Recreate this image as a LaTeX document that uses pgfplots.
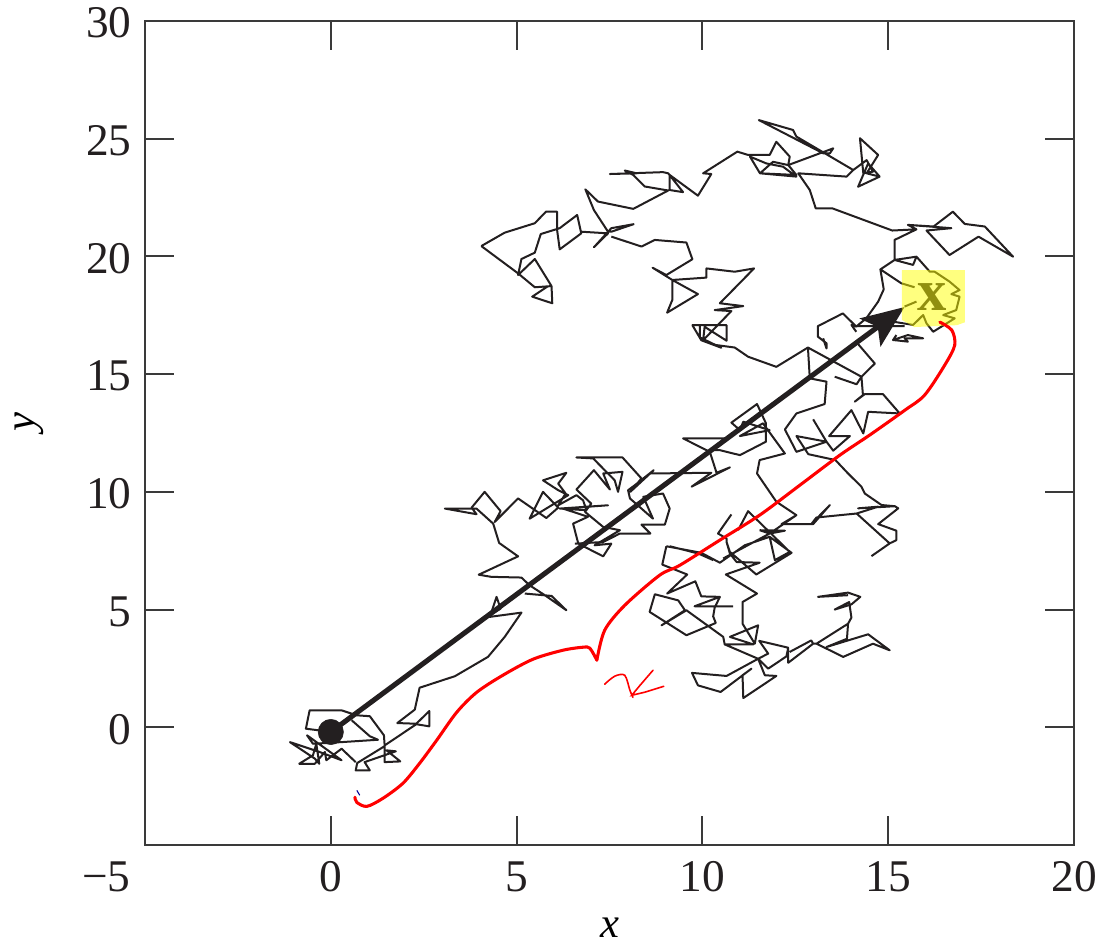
\documentclass[border=0pt]{standalone}
\usepackage{fontspec}
\setmainfont{Liberation Serif}
\usepackage{pgfplots}
\pgfplotsset{compat=1.18}
\usetikzlibrary{arrows.meta}
\definecolor{ink}{HTML}{231F20}
\definecolor{frame}{HTML}{3A3A3A}
\begin{document}
\begin{tikzpicture}
\useasboundingbox (-108.75pt,-77.25pt) rectangle (715.5pt,633.75pt);
\begin{axis}[
  scale only axis,width=696.75pt,height=618pt,
  xmin=-5,xmax=20,ymin=-5,ymax=30,
  xtick={-5,0,5,10,15,20},ytick={-5,0,5,10,15,20,25,30},
  xticklabels={\makebox[0pt][r]{−5\hspace{11pt}},0,5,10,15,20},
  yticklabels={,0,5,10,15,20,25,30},
  tick align=inside,tick pos=both,major tick length=22pt,
  axis line style={frame,line width=1.5pt},
  every tick/.style={frame,line width=1.5pt},
  tick label style={font=\fontsize{34}{36}\selectfont,text=ink},
  xticklabel style={yshift=-9pt},
  yticklabel style={xshift=-6.5pt,yshift=-1.5pt},
  xlabel={\fontsize{32}{34}\selectfont\itshape x},
  ylabel={\fontsize{32}{34}\selectfont\itshape y},
  xlabel style={at={(axis description cs:0.5005,-0.100)},anchor=center},
  ylabel style={at={(axis description cs:-0.124,0.513)},anchor=center},
  clip=false,
]
% random walk
\addplot[ink,line width=1.5pt,line join=round,unbounded coords=jump] table {
x y
0.02 -0.20
-0.67 -0.06
-0.57 0.72
0.29 0.72
0.69 0.51
1.05 0.47
1.43 -0.34
1.45 -0.80
0.71 -1.52
0.67 -1.83
1.05 -1.83
0.91 -1.48
1.75 -1.02
1.50 -0.98
1.87 -1.45
1.45 -1.48
1.45 -0.77
2.30 0.13
2.65 0.04
2.65 0.69
2.30 0.15
1.79 0.18
2.26 0.75
2.39 1.68
3.34 2.17
4.23 2.99
4.68 3.84
5.13 4.87
4.28 4.69
4.46 5.54
4.57 5.04
4.28 4.76
nan nan
0.56 0.30
1.05 -0.38
1.27 -0.53
0.29 -0.63
-0.48 -0.70
-0.64 -0.34
0.29 -1.40
-0.30 -1.05
-1.10 -0.63
-0.43 -1.33
-0.31 -1.55
-0.39 -0.70
-0.48 -1.19
-0.85 -1.55
-0.43 -1.55
-0.16 -1.05
-0.12 -1.40
0.29 -0.91
0.67 -1.48
nan nan
5.22 5.68
5.94 5.58
6.34 4.97
5.76 5.61
5.35 6.03
5.13 6.36
4.32 6.39
3.98 6.48
5.04 7.26
4.53 7.83
4.37 8.65
3.92 9.29
3.07 9.29
3.92 9.05
3.79 9.33
4.14 10.00
4.57 9.18
4.41 8.72
5.04 9.72
5.80 8.89
6.12 9.33
5.71 10.00
5.35 8.86
6.39 9.86
6.12 10.07
5.71 10.49
6.34 10.81
6.12 10.35
6.32 9.93
6.12 9.43
6.61 9.86
6.79 9.64
6.88 9.22
6.16 9.29
7.46 9.43
6.25 9.29
6.92 8.94
6.52 8.65
6.66 7.80
7.33 7.26
7.55 7.80
7.10 7.73
7.78 8.37
7.33 8.51
6.84 9.15
7.01 9.50
6.61 10.10
7.08 10.92
7.51 10.10
7.33 10.78
7.85 10.85
7.73 10.00
7.64 10.49
7.06 11.42
6.61 11.46
7.85 11.46
8.36 10.57
8.06 10.00
8.69 10.92
8.18 10.28
8.00 10.07
8.05 9.72
8.67 8.86
8.41 9.79
8.94 9.93
9.12 9.29
8.99 8.61
8.36 8.61
8.60 8.23
7.78 8.23
7.33 7.87
6.57 7.80
nan nan
8.58 10.78
10.24 10.81
9.71 10.22
10.74 11.04
10.38 10.81
10.20 11.70
9.48 12.27
10.60 12.27
10.24 11.77
10.47 11.77
11.01 11.56
11.71 12.13
11.71 12.91
11.47 13.73
10.78 12.94
11.01 12.62
11.10 12.98
11.81 12.62
11.01 12.37
11.63 12.91
12.22 11.63
11.54 11.35
11.47 10.78
11.99 9.58
12.53 9.01
12.13 8.63
12.98 8.63
13.43 9.44
12.93 8.63
13.07 8.91
14.15 9.08
14.73 9.37
14.19 9.30
15.18 9.39
14.82 9.44
14.37 9.93
14.28 10.22
13.92 10.78
13.58 11.35
12.85 11.60
12.53 12.37
13.34 12.13
12.53 11.70
12.22 12.65
12.53 13.33
13.29 13.73
13.34 14.68
12.89 14.82
12.84 16.13
nan nan
12.98 13.08
13.34 12.13
13.52 11.75
13.97 12.37
13.41 12.37
14.01 13.47
14.33 12.48
14.46 13.40
15.31 13.33
14.86 14.15
14.37 14.15
14.10 13.83
14.32 14.11
14.28 14.89
14.15 14.57
13.56 14.89
nan nan
14.15 9.08
15.04 7.81
14.55 7.27
nan nan
15.18 9.39
15.27 9.30
14.73 8.63
15.22 8.35
15.22 7.95
15.00 7.78
nan nan
9.03 7.69
8.92 6.91
9.59 6.49
9.05 5.68
9.81 6.20
9.97 5.56
10.47 5.54
10.33 5.08
10.29 4.71
10.36 4.43
9.57 3.91
8.58 4.90
8.72 5.65
9.35 5.39
9.53 4.97
8.90 4.33
9.57 4.97
10.56 3.84
10.60 3.52
11.50 2.91
11.77 3.13
11.53 3.67
12.31 3.38
12.26 3.01
11.77 2.49
11.50 2.91
11.68 2.21
11.99 2.18
11.10 1.24
11.08 2.21
11.32 2.49
10.49 1.50
9.88 1.78
9.72 2.31
10.65 2.18
11.50 2.91
nan nan
9.03 7.69
9.97 7.41
10.47 6.99
11.14 7.73
11.81 8.09
12.40 7.41
11.45 6.49
10.74 7.45
10.65 7.87
10.74 7.38
10.92 7.02
11.54 6.99
10.63 6.49
11.47 5.68
11.08 5.32
11.08 4.40
11.41 3.55
11.50 4.33
10.74 3.84
11.37 3.52
10.60 3.52
nan nan
10.47 5.54
9.79 5.14
10.83 5.14
nan nan
12.31 3.38
12.31 2.74
12.98 3.55
12.93 3.69
12.35 3.20
nan nan
12.98 3.55
13.07 3.55
13.79 2.99
14.59 3.55
15.04 3.27
14.46 3.95
13.34 3.41
13.89 3.76
13.92 4.40
13.07 3.55
nan nan
13.92 4.40
14.01 4.66
13.95 5.32
13.56 5.00
14.01 5.22
14.25 5.54
13.92 5.72
13.11 5.54
13.92 5.61
nan nan
10.78 9.04
10.42 8.23
10.65 8.02
10.65 7.87
nan nan
10.96 8.37
11.23 9.18
12.35 7.45
11.95 7.10
11.81 8.09
nan nan
10.56 7.17
11.81 8.23
12.53 9.01
nan nan
11.54 8.37
12.22 8.35
11.81 8.23
11.54 8.37
nan nan
9.12 7.69
9.89 7.38
10.29 7.10
nan nan
4.05 20.44
5.04 19.28
5.49 18.69
5.94 18.74
5.49 19.89
5.04 19.21
5.13 19.89
5.49 20.16
5.65 20.95
6.16 21.20
6.63 21.76
6.74 20.98
6.16 20.30
6.09 21.12
6.09 21.90
5.79 21.90
5.49 21.41
4.68 21.01
4.05 20.44
nan nan
5.94 18.74
5.96 18.01
5.42 18.29
5.85 18.74
nan nan
6.74 21.05
7.46 20.98
7.08 20.39
7.55 21.20
8.15 21.37
7.55 21.05
7.46 21.05
7.08 21.97
6.85 22.85
7.19 22.33
8.14 22.02
9.08 22.80
8.45 22.97
8.14 23.46
7.91 23.65
8.23 23.53
7.51 23.50
8.94 23.58
9.08 23.53
9.48 22.73
9.12 22.82
9.12 23.46
9.88 22.58
10.24 23.50
10.02 23.53
10.94 24.45
11.23 24.31
11.81 24.31
11.99 24.87
12.35 24.24
12.31 23.88
11.90 24.02
11.55 23.53
12.53 23.39
12.17 23.81
11.72 23.95
11.28 24.24
11.55 23.53
12.53 23.46
12.31 23.88
13.52 24.59
13.43 24.38
13.25 24.38
11.52 25.79
12.44 25.37
12.53 25.09
14.06 23.67
13.88 23.39
12.58 23.53
12.89 22.82
13.05 22.04
13.50 22.04
15.11 21.10
15.76 21.15
15.53 21.34
16.70 21.20
16.03 21.10
16.65 20.06
17.43 20.84
18.36 19.99
17.60 21.27
17.06 21.38
16.74 21.90
16.22 21.27
15.53 21.34
15.76 21.15
15.17 20.70
15.17 19.85
15.76 19.99
15.67 19.64
15.17 19.85
14.79 19.45
15.35 18.86
15.71 18.69
nan nan
14.06 23.67
14.42 24.09
14.59 23.60
14.33 23.53
14.24 25.02
14.73 24.31
14.42 23.53
14.77 23.39
14.46 23.95
14.19 22.96
14.77 23.39
nan nan
14.79 19.45
14.88 18.60
14.73 18.08
14.41 17.37
14.14 17.02
14.01 17.09
14.14 16.80
nan nan
14.14 17.02
13.78 17.58
13.11 17.04
13.11 16.59
13.34 16.31
13.34 16.09
13.25 16.52
nan nan
15.76 19.99
16.12 19.35
16.25 19.35
16.65 18.93
16.92 18.57
16.70 18.40
16.92 18.29
16.83 17.72
16.48 17.51
16.79 17.37
16.21 16.80
16.03 17.16
15.94 17.51
15.67 17.09
15.13 17.23
nan nan
14.14 17.04
15.44 17.04
nan nan
15.13 16.45
15.53 16.66
15.94 16.52
15.44 16.52
15.53 16.38
15.13 16.45
15.22 16.66
nan nan
15.44 17.87
15.76 18.08
nan nan
7.55 20.84
8.36 20.42
8.72 20.70
9.57 20.59
9.73 19.88
9.03 19.21
8.66 19.52
9.19 19.00
9.88 18.40
9.05 17.61
9.19 18.15
9.19 19.00
10.11 19.10
10.11 19.49
10.87 19.35
11.39 19.49
10.47 18.01
11.10 17.89
10.33 17.72
10.78 17.68
10.02 16.44
10.06 17.01
10.65 16.42
10.65 17.08
9.73 17.08
9.97 16.44
10.51 16.12
9.93 16.56
9.93 17.08
nan nan
10.30 16.25
10.87 16.13
11.23 15.74
11.99 15.31
12.84 16.13
14.28 14.89
14.64 15.45
14.14 16.37
};
% displacement arrow
\addplot[ink,line width=3.8pt,-{Stealth[length=32pt,width=26pt,inset=7pt]}] coordinates {(0,-0.2) (15.44,17.85)};
% origin
\addplot[only marks,mark=*,mark size=9.5pt,mark options={fill=ink,draw=ink}] coordinates {(0,-0.2)};
\node[text=ink,font=\fontsize{44}{46}\selectfont\bfseries] at (axis cs:16.17,18.27) {x};
% yellow highlight
\addplot[draw=none,fill={rgb,255:red,255;green,255;blue,0},fill opacity=0.5,forget plot] coordinates {(15.37,19.42) (17.06,19.42) (17.06,17.20) (16.85,17.08) (15.70,17.00) (15.37,17.30)} --cycle;
% pen annotation
\addplot[red,line width=2.3pt,smooth,line cap=round] coordinates {(0.65,-2.97)(0.70,-3.19)(0.97,-3.36)(1.40,-3.02)(1.94,-2.38)(2.39,-1.53)(2.85,-0.55)(3.39,0.64)(3.93,1.49)(4.63,2.21)(5.44,2.89)(6.24,3.27)(6.78,3.40)(6.97,3.36)(7.16,2.85)};
\addplot[red,line width=2.3pt,smooth,line cap=round] coordinates {(7.16,2.85)(7.37,4.12)(7.91,5.18)(8.85,6.46)(9.39,6.88)(10.47,7.95)(11.54,9.01)(12.62,10.28)(13.70,11.56)(14.50,12.41)(15.45,13.47)(15.98,14.11)(16.52,15.38)(16.79,16.23)(16.71,16.87)(16.39,17.21)};
\addplot[red,line width=1.2pt,smooth,line cap=round] coordinates {(7.37,1.83)(7.64,2.17)(7.91,2.21)(8.05,1.57)(8.13,1.27)};
\addplot[red,line width=1.2pt,line cap=round] coordinates {(8.67,2.42)(8.32,1.78)(8.10,1.36)(8.45,1.49)(8.96,1.74)};
\addplot[blue!60!black,line width=0.8pt] coordinates {(0.70,-2.68)(0.78,-2.89)};
\end{axis}
\end{tikzpicture}
\end{document}
